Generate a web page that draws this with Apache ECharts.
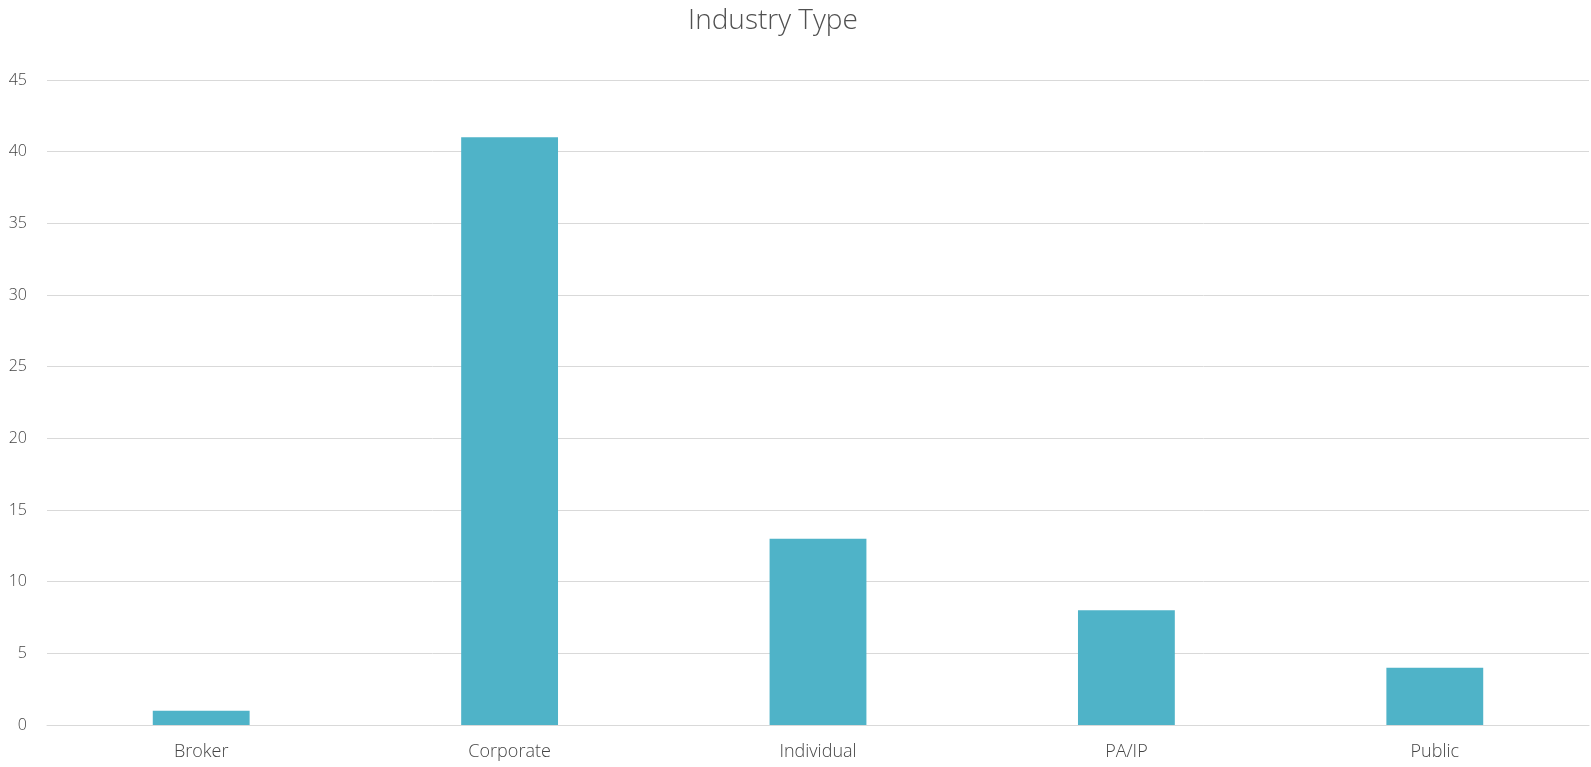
<!DOCTYPE html>
<html>
<head>
<meta charset="utf-8">
<script src="https://cdn.jsdelivr.net/npm/echarts@6/dist/echarts.min.js"></script>
<style>html,body{margin:0;padding:0;background:#fff}#c{width:1591px;height:767px}</style>
</head>
<body>
<div id="c"></div>
<script>
const categories = ['Broker', 'Corporate', 'Individual', 'PA/IP', 'Public'];
const values = [1, 41, 13, 8, 4];
const yTicks = [0, 5, 10, 15, 20, 25, 30, 35, 40, 45];

const chart = echarts.init(document.getElementById('c'), null, {renderer: 'canvas'});
chart.setOption({
  animation: false,
  title: {
    text: 'Industry Type',
    left: 768, top: 2, textAlign: 'center',
    textStyle: {fontFamily: 'Open Sans', fontWeight: 300, fontSize: 28, color: '#505050'}
  },
  grid: {left: 47, right: 2, top: 80, bottom: 42, containLabel: false},
  xAxis: {
    type: 'category',
    data: categories,
    axisLine: {show: true, lineStyle: {color: '#d9d9d9', width: 1}},
    axisTick: {show: false},
    axisLabel: {fontFamily: 'Open Sans', fontWeight: 300, fontSize: 18, color: '#454545', margin: 18}
  },
  yAxis: {
    type: 'value',
    min: yTicks[0], max: yTicks[yTicks.length - 1], interval: 5,
    axisLine: {show: false},
    axisTick: {show: false},
    splitLine: {lineStyle: {color: '#d9d9d9', width: 1}},
    axisLabel: {fontFamily: 'Open Sans', fontWeight: 300, fontSize: 16, color: '#454545', margin: 20}
  },
  series: [{
    type: 'bar',
    data: values,
    barWidth: '31.4%',
    itemStyle: {color: '#4FB3C8'}
  }]
});
</script>
</body>
</html>
